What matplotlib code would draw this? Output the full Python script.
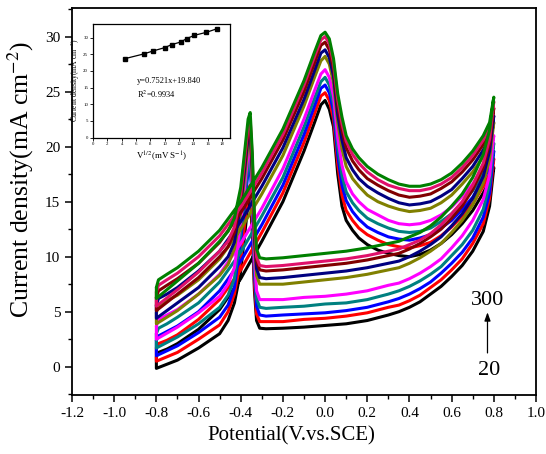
import numpy as np
import matplotlib
matplotlib.use('Agg')
import matplotlib.pyplot as plt
from matplotlib.ticker import MultipleLocator

plt.rcParams['font.family'] = ['Liberation Serif', 'DejaVu Serif']
plt.rcParams['mathtext.fontset'] = 'stix'

# ---------------- data ----------------
scan_rates = [20, 50, 70, 100, 120, 150, 170, 200, 250, 300]
colors = ['#000000', '#FF0000', '#0000FF', '#008080', '#FF00FF',
          '#808000', '#000080', '#800000', '#E0106A', '#008000']

# forward scan potentials (V)
E_fwd = [-0.8, -0.79, -0.75, -0.7, -0.6, -0.5, -0.4, -0.3, -0.2, -0.1, -0.05, -0.02,
         0.0, 0.02, 0.04, 0.06, 0.08, 0.1, 0.13, 0.16, 0.2, 0.25, 0.3, 0.35, 0.4,
         0.45, 0.5, 0.55, 0.6, 0.65, 0.7, 0.75, 0.78, 0.8]
# forward scan current densities (mA cm-2), one row per scan rate
I_fwd = [
    [0.9, 1.3, 1.6, 2.1, 3.4, 5.2, 8.0, 11.4, 15.0, 19.6, 22.2, 23.8, 24.2, 23.4, 21.8, 17.5, 14.6, 13.3, 12.4, 11.7, 11.1, 10.6, 10.3, 10.1, 10.0, 10.2, 10.6, 11.2, 12.0, 13.0, 14.2, 15.8, 16.9, 18.1],
    [1.7, 2.1, 2.4, 2.9, 4.3, 6.1, 8.8, 12.2, 15.8, 20.4, 23.0, 24.6, 24.9, 24.2, 22.5, 18.4, 15.6, 14.2, 13.3, 12.6, 12.0, 11.5, 11.1, 10.9, 10.8, 11.0, 11.3, 11.9, 12.7, 13.7, 14.8, 16.4, 17.5, 18.9],
    [2.4, 2.8, 3.2, 3.7, 5.0, 6.9, 9.6, 12.9, 16.5, 21.1, 23.7, 25.3, 25.6, 24.9, 23.2, 19.2, 16.5, 15.1, 14.1, 13.4, 12.7, 12.2, 11.8, 11.6, 11.5, 11.7, 12.0, 12.6, 13.3, 14.3, 15.4, 17.0, 18.1, 19.6],
    [3.0, 3.5, 3.9, 4.5, 5.8, 7.7, 10.4, 13.7, 17.2, 21.8, 24.4, 25.9, 26.3, 25.6, 23.9, 20.0, 17.4, 15.9, 14.9, 14.2, 13.5, 13.0, 12.6, 12.3, 12.2, 12.3, 12.6, 13.2, 13.9, 14.9, 16.0, 17.6, 18.7, 20.3],
    [3.7, 4.3, 4.7, 5.2, 6.6, 8.4, 11.2, 14.4, 18.0, 22.5, 25.1, 26.6, 27.0, 26.3, 24.6, 20.8, 18.3, 16.8, 15.7, 15.0, 14.3, 13.8, 13.3, 13.0, 12.9, 13.0, 13.3, 13.8, 14.5, 15.5, 16.6, 18.1, 19.3, 21.0],
    [4.9, 5.5, 6.0, 6.5, 7.9, 9.8, 12.5, 15.7, 19.2, 23.7, 26.3, 27.8, 28.2, 27.5, 25.8, 22.2, 19.8, 18.2, 17.1, 16.4, 15.6, 15.0, 14.6, 14.3, 14.1, 14.2, 14.4, 14.9, 15.6, 16.6, 17.7, 19.1, 20.3, 22.2],
    [5.6, 6.2, 6.6, 7.2, 8.7, 10.5, 13.2, 16.4, 19.9, 24.3, 26.9, 28.5, 28.8, 28.1, 26.4, 22.9, 20.6, 19.0, 17.9, 17.1, 16.4, 15.8, 15.3, 14.9, 14.7, 14.8, 15.0, 15.5, 16.1, 17.1, 18.2, 19.7, 20.8, 22.8],
    [6.3, 6.9, 7.4, 8.0, 9.4, 11.3, 14.0, 17.1, 20.6, 25.0, 27.6, 29.2, 29.5, 28.8, 27.1, 23.7, 21.5, 19.9, 18.7, 17.9, 17.1, 16.5, 16.0, 15.6, 15.4, 15.5, 15.7, 16.2, 16.8, 17.7, 18.8, 20.2, 21.4, 23.5],
    [6.8, 7.4, 7.9, 8.5, 10.0, 11.9, 14.5, 17.6, 21.1, 25.6, 28.2, 29.7, 30.0, 29.4, 27.6, 24.3, 22.1, 20.5, 19.3, 18.5, 17.7, 17.0, 16.5, 16.2, 16.0, 16.0, 16.2, 16.6, 17.2, 18.1, 19.2, 20.6, 21.8, 24.1],
    [7.2, 7.9, 8.4, 9.0, 10.5, 12.4, 15.0, 18.1, 21.6, 26.0, 28.6, 30.1, 30.4, 29.8, 28.0, 24.8, 22.7, 21.0, 19.8, 19.0, 18.2, 17.5, 17.0, 16.6, 16.4, 16.4, 16.6, 17.0, 17.6, 18.5, 19.6, 21.0, 22.2, 24.5],
]

# reverse scan potentials (V)
E_rev = [0.78, 0.75, 0.7, 0.65, 0.6, 0.55, 0.5, 0.45, 0.4, 0.35, 0.3, 0.2, 0.1, 0.0,
         -0.1, -0.2, -0.28, -0.31, -0.325, -0.335, -0.345, -0.355, -0.365, -0.38,
         -0.4, -0.43, -0.46, -0.5, -0.6, -0.7, -0.8]
I_rev = [
    [14.6, 12.3, 10.5, 9.2, 8.2, 7.3, 6.6, 5.9, 5.4, 5.0, 4.7, 4.2, 3.9, 3.75, 3.6, 3.5, 3.45, 3.5, 4.2, 6.9, 12.1, 15.5, 14.9, 12.2, 8.7, 5.8, 4.2, 3.0, 1.7, 0.6, -0.15],
    [15.3, 13.0, 11.2, 9.8, 8.8, 7.9, 7.2, 6.5, 6.0, 5.6, 5.4, 4.9, 4.6, 4.4, 4.3, 4.1, 4.1, 4.1, 4.8, 7.6, 13.0, 16.5, 15.9, 13.2, 9.7, 6.6, 5.0, 3.8, 2.5, 1.3, 0.5],
    [15.8, 13.6, 11.7, 10.4, 9.4, 8.5, 7.7, 7.1, 6.6, 6.2, 5.9, 5.4, 5.1, 4.9, 4.8, 4.7, 4.6, 4.7, 5.5, 8.5, 14.5, 18.3, 17.7, 15.0, 11.5, 7.2, 5.6, 4.5, 3.1, 1.9, 1.0],
    [16.6, 14.3, 12.4, 11.1, 10.1, 9.1, 8.4, 7.8, 7.3, 6.9, 6.6, 6.1, 5.8, 5.7, 5.5, 5.4, 5.3, 5.4, 6.2, 9.2, 15.2, 19.0, 18.4, 15.7, 12.2, 8.0, 6.5, 5.4, 3.9, 2.7, 1.7],
    [17.4, 15.2, 13.3, 11.9, 10.8, 9.8, 9.1, 8.5, 8.0, 7.6, 7.4, 6.9, 6.6, 6.4, 6.3, 6.1, 6.1, 6.1, 6.9, 10.0, 16.1, 20.0, 19.4, 16.7, 13.2, 9.0, 7.5, 6.4, 4.9, 3.6, 2.5],
    [18.9, 16.7, 14.7, 13.3, 12.2, 11.2, 10.5, 9.9, 9.4, 9.0, 8.8, 8.4, 8.1, 7.9, 7.7, 7.5, 7.5, 7.5, 8.3, 11.2, 17.1, 20.8, 20.2, 17.5, 14.0, 10.7, 9.3, 8.3, 6.6, 5.1, 3.9],
    [19.6, 17.3, 15.3, 13.9, 12.8, 11.8, 11.1, 10.5, 10.0, 9.6, 9.4, 9.0, 8.7, 8.5, 8.3, 8.1, 8.0, 8.1, 8.9, 11.9, 17.7, 21.5, 20.9, 18.2, 14.7, 11.3, 10.0, 9.1, 7.2, 5.8, 4.4],
    [20.3, 18.1, 16.1, 14.6, 13.5, 12.5, 11.8, 11.2, 10.7, 10.3, 10.1, 9.7, 9.4, 9.2, 9.0, 8.8, 8.7, 8.8, 9.6, 12.5, 18.3, 22.0, 21.4, 18.7, 15.2, 12.2, 10.9, 10.0, 8.1, 6.6, 5.1],
    [20.7, 18.5, 16.5, 15.0, 13.9, 12.9, 12.1, 11.5, 11.1, 10.7, 10.5, 10.1, 9.8, 9.6, 9.4, 9.2, 9.1, 9.2, 10.0, 12.9, 18.8, 22.5, 21.9, 19.2, 15.7, 12.7, 11.4, 10.5, 8.6, 7.0, 5.5],
    [21.5, 19.3, 17.2, 15.7, 14.6, 13.6, 12.8, 12.2, 11.8, 11.4, 11.2, 10.8, 10.5, 10.3, 10.1, 9.9, 9.8, 9.9, 10.7, 13.6, 19.4, 23.1, 22.5, 19.8, 16.3, 13.5, 12.3, 11.4, 9.4, 7.8, 6.2],
]

# inset: peak current vs square root of scan rate
sqrt_v = [4.47, 7.07, 8.37, 10.0, 10.95, 12.25, 13.04, 14.14, 15.81, 17.32]
peak_j = [23.7, 25.1, 26.0, 27.0, 27.9, 28.7, 29.7, 30.7, 31.6, 32.7]

xticks_main = [-1.2, -1.0, -0.8, -0.6, -0.4, -0.2, 0.0, 0.2, 0.4, 0.6, 0.8, 1.0]
yticks_main = [0, 5, 10, 15, 20, 25, 30]

# ---------------- figure ----------------
fig = plt.figure(figsize=(5.46, 4.54), dpi=100)
ax = fig.add_axes([72/546, 1-395/454, 464/546, 387/454])

for i in range(len(scan_rates)):
    E = np.concatenate([E_fwd, E_rev, E_fwd[:1]])
    J = np.concatenate([I_fwd[i], I_rev[i], I_fwd[i][:1]])
    ax.plot(E, J, color=colors[i], lw=2.2, solid_joinstyle='round', solid_capstyle='round')

ax.set_xlim(-1.2, 1.0)
ax.set_ylim(-2.57, 32.6)
ax.set_xticks(xticks_main)
ax.set_xticklabels(['%.1f' % t for t in xticks_main])
ax.set_yticks(yticks_main)
ax.xaxis.set_minor_locator(MultipleLocator(0.1))
ax.yaxis.set_minor_locator(MultipleLocator(2.5))
ax.tick_params(which='major', direction='out', length=5, width=1.1, labelsize=11,
               top=False, right=False)
ax.tick_params(which='minor', direction='out', length=3, width=1.0, top=False, right=False)
for s in ax.spines.values():
    s.set_linewidth(1.3)

ax.set_xlabel('Potential(V.vs.SCE)', fontsize=15)
ax.set_ylabel('Current density(mA cm$^{-2}$)', fontsize=18.5)
ax.xaxis.set_label_coords(0.472, -0.082)
ax.yaxis.set_label_coords(-0.078, 0.558)

# scan-rate annotation
ax.annotate('', xy=(0.770, 5.2), xytext=(0.770, 1.0),
            arrowprops=dict(arrowstyle='-|>,head_length=0.5,head_width=0.18', lw=0.9, color='black'))
ax.text(0.770, 6.0, '300', ha='center', va='center', fontsize=16)
ax.text(0.779, -0.3, '20', ha='center', va='center', fontsize=16)

# ---------------- inset ----------------
ins = fig.add_axes([93/546, 1-137.5/454, 137/546, 113.5/454])
ins.plot(sqrt_v, peak_j, color='black', lw=0.9, marker='s', markersize=2.8)
ins.set_xlim(0, 19.1)
ins.set_ylim(0, 34.1)
ins.set_xticks(range(0, 19, 2))
ins.set_yticks([0, 5, 10, 15, 20, 25, 30])
ins.tick_params(direction='out', length=2, width=0.6, labelsize=3.5, pad=1.5)
for s in ins.spines.values():
    s.set_linewidth(0.9)
ins.set_xlabel('V$^{1/2}$(mV S$^{-1}$)', fontsize=6.5, labelpad=2)
ins.set_ylabel('Current density(mA cm$^{-2}$)', fontsize=5.5, labelpad=1)
ins.text(6.1, 16.9, 'y=0.7521x+19.840', fontsize=6, va='center')
ins.text(6.1, 13.1, 'R$^{2}$=0.9934', fontsize=6, va='center')

fig.savefig('out.png', dpi=100)
